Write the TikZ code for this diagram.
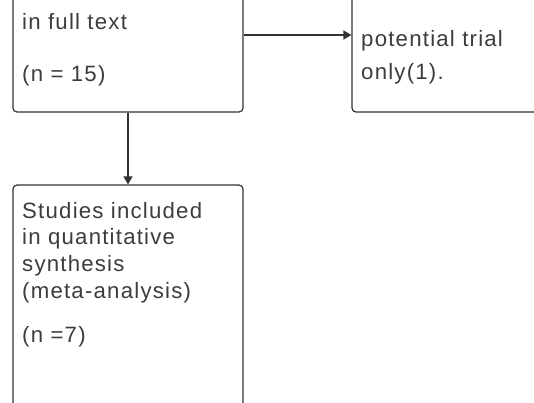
\documentclass[tikz,border=0pt]{standalone}
\usepackage{fontspec}
\setmainfont[LetterSpace=5.5]{Liberation Sans}
\usetikzlibrary{arrows.meta, positioning}

\definecolor{linegrey}{HTML}{333333}
\definecolor{textgrey}{HTML}{3C3C3C}

\begin{document}
\begin{tikzpicture}[x=1pt, y=-1pt,
    box/.style={rectangle, rounded corners=4pt, draw=linegrey, line width=1.2pt,
                inner sep=0pt},
    txt/.style={inner sep=0pt, align=left, text=textgrey, anchor=base west,
                font=\fontsize{22.2}{26.7}\selectfont},
    arrow/.style={-{Triangle[length=8pt, width=9pt]}, draw=linegrey, line width=1.2pt}]

    \useasboundingbox (0,0) rectangle (534,403);

    % Boxes
    \node[box, minimum width=230pt, minimum height=154pt] (fulltext) at (128,35) {};
    \node[box, minimum width=288pt, minimum height=154pt] (excluded) at (496,35) {};
    \node[box, minimum width=230pt, minimum height=275pt] (included) at (128,322.5) {};

    % Texts (anchored at the baseline of their last line)
    \node[txt] (fulltextlbl) at (22,82) {in full text\\[26pt](n = 15)};
    \node[txt, font=\fontsize{22.2}{33}\selectfont] (excludedlbl) at (361,80) {potential trial\\only(1).};
    \node[txt] (includedlbl) at (22,342) {Studies included\\in quantitative\\synthesis\\(meta-analysis)\\[17pt](n =7)};

    % Arrows
    \draw[arrow] (fulltext.east) -- (excluded.west);
    \draw[arrow] (fulltext.south) -- (included.north);

\end{tikzpicture}
\end{document}
